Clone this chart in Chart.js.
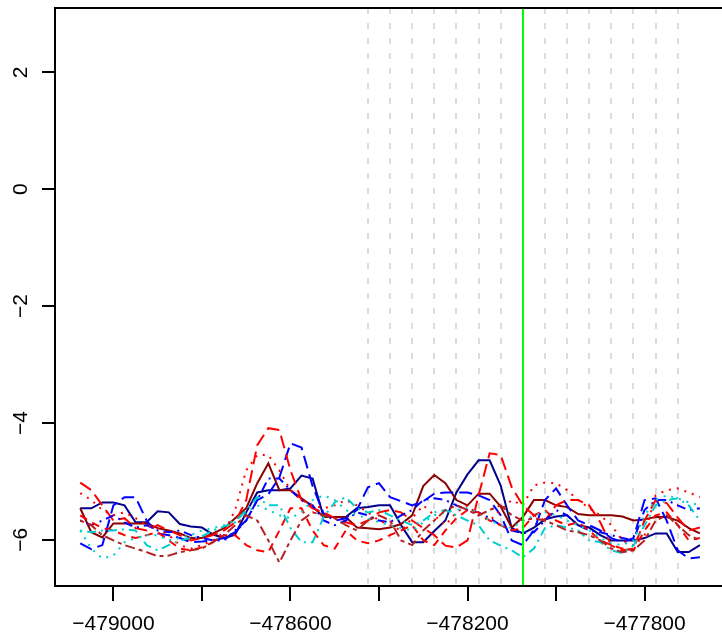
<!DOCTYPE html>
<html>
<head>
<meta charset="utf-8">
<script src="https://cdn.jsdelivr.net/npm/chart.js@4.4.1/dist/chart.umd.min.js"></script>
<style>
  html, body { margin: 0; padding: 0; background: #fff; overflow: hidden; }
  #wrap { width: 722px; height: 635px; }
</style>
</head>
<body>
<div id="wrap"><canvas id="plot" width="722" height="635"></canvas></div>
<script>
// positions along the x axis (every 25 units)
const positions = [-479075, -479050, -479025, -479000, -478975, -478950, -478925, -478900, -478875, -478850,
  -478825, -478800, -478775, -478750, -478725, -478700, -478675, -478650, -478625, -478600,
  -478575, -478550, -478525, -478500, -478475, -478450, -478425, -478400, -478375, -478350,
  -478325, -478300, -478275, -478250, -478225, -478200, -478175, -478150, -478125, -478100,
  -478075, -478050, -478025, -478000, -477975, -477950, -477925, -477900, -477875, -477850,
  -477825, -477800, -477775, -477750, -477725, -477700, -477675];

// series values
const navySolid = [-5.46, -5.46, -5.36, -5.36, -5.41, -5.70, -5.70, -5.51, -5.53, -5.73,
  -5.77, -5.79, -5.91, -5.97, -5.91, -5.53, -5.19, -5.15, -5.15, -5.12,
  -4.90, -4.95, -5.61, -5.61, -5.61, -5.46, -5.44, -5.41, -5.41, -5.75,
  -6.04, -6.04, -5.85, -5.67, -5.19, -4.88, -4.64, -4.64, -5.07, -5.80,
  -5.89, -5.79, -5.65, -5.60, -5.58, -5.75, -5.79, -5.92, -6.01, -6.01,
  -6.01, -5.97, -5.89, -5.89, -6.21, -6.21, -6.09];
const darkredSolid = [-5.46, -5.87, -5.96, -5.72, -5.72, -5.72, -5.72, -5.80, -5.84, -5.89,
  -5.97, -5.97, -5.89, -5.80, -5.63, -5.46, -5.03, -4.69, -5.15, -5.15,
  -5.29, -5.43, -5.61, -5.61, -5.61, -5.79, -5.80, -5.82, -5.79, -5.73,
  -5.58, -5.08, -4.89, -5.03, -5.32, -5.41, -5.21, -5.21, -5.43, -5.79,
  -5.61, -5.32, -5.32, -5.41, -5.44, -5.56, -5.58, -5.58, -5.58, -5.60,
  -5.67, -5.65, -5.61, -5.61, -5.67, -5.80, -5.89];
const blueLongdash = [-6.06, -6.16, -6.09, -5.41, -5.27, -5.27, -5.67, -5.89, -5.92, -5.97,
  -6.04, -6.03, -6.01, -5.97, -5.87, -5.67, -5.32, -5.22, -4.93, -4.35,
  -4.42, -5.08, -5.55, -5.67, -5.63, -5.49, -5.10, -5.03, -5.27, -5.34,
  -5.41, -5.34, -5.21, -5.19, -5.19, -5.19, -5.24, -5.32, -5.58, -6.01,
  -6.09, -5.84, -5.32, -5.12, -5.41, -5.67, -5.75, -5.84, -5.97, -6.04,
  -5.97, -5.32, -5.29, -5.67, -6.18, -6.32, -6.30];
const redLongdash = [-5.02, -5.15, -5.41, -5.67, -5.63, -5.80, -5.84, -5.75, -5.84, -5.92,
  -6.01, -5.97, -5.92, -5.84, -5.70, -5.32, -4.38, -4.09, -4.12, -4.81,
  -5.32, -5.46, -5.53, -5.63, -5.70, -5.75, -5.67, -5.53, -5.49, -5.53,
  -5.67, -5.80, -5.92, -6.10, -6.13, -6.01, -5.24, -4.52, -4.55, -5.10,
  -5.41, -5.58, -5.67, -5.41, -5.32, -5.32, -5.41, -5.70, -6.10, -6.18,
  -6.15, -5.67, -5.32, -5.37, -5.62, -5.84, -5.79];
const redDotted = [-5.20, -5.32, -5.49, -5.58, -5.53, -5.63, -5.75, -5.80, -5.92, -6.09,
  -6.15, -6.09, -6.01, -5.87, -5.49, -4.81, -4.55, -4.55, -4.81, -5.15,
  -5.32, -5.41, -5.46, -5.41, -5.32, -5.41, -5.53, -5.67, -5.75, -5.84,
  -5.63, -5.41, -5.58, -5.75, -5.53, -5.41, -5.58, -5.67, -5.49, -5.32,
  -5.41, -5.07, -5.02, -5.03, -5.15, -5.32, -5.46, -5.58, -5.75, -6.01,
  -6.09, -5.92, -5.24, -5.15, -5.12, -5.19, -5.27];
const redDashed = [-5.58, -5.70, -5.80, -5.84, -5.92, -5.97, -5.92, -5.87, -6.01, -6.15,
  -6.18, -6.13, -6.04, -5.92, -5.92, -6.09, -6.18, -6.21, -5.84, -5.46,
  -5.46, -5.84, -6.09, -6.15, -5.84, -6.01, -6.06, -6.01, -5.92, -5.84,
  -5.75, -6.01, -6.09, -5.84, -5.63, -5.49, -5.53, -5.67, -5.75, -5.84,
  -5.80, -5.58, -5.49, -5.67, -5.75, -5.70, -5.84, -6.01, -6.09, -6.15,
  -6.18, -5.84, -5.58, -5.53, -5.75, -6.01, -5.97];
const blueDotdash = [-5.67, -5.75, -5.67, -5.58, -5.70, -5.79, -5.75, -5.84, -5.87, -5.84,
  -5.92, -5.97, -6.01, -6.01, -5.84, -5.67, -5.32, -4.95, -4.95, -5.15,
  -5.32, -5.41, -5.67, -5.75, -5.67, -5.53, -5.58, -5.67, -5.70, -5.58,
  -5.49, -5.32, -5.29, -5.32, -5.41, -5.49, -5.53, -5.63, -5.75, -5.84,
  -5.89, -5.87, -5.67, -5.49, -5.58, -5.75, -5.84, -5.87, -5.92, -5.97,
  -6.01, -5.49, -5.32, -5.32, -5.41, -5.49, -5.46];
const cyanDotted = [-5.84, -6.15, -6.32, -6.27, -6.04, -5.97, -5.92, -5.92, -6.01, -5.97,
  -5.92, -5.84, -5.80, -5.75, -5.67, -5.53, -5.41, -5.49, -5.58, -5.63,
  -5.53, -5.32, -5.24, -5.32, -5.49, -5.58, -5.63, -5.70, -5.75, -5.80,
  -5.84, -5.70, -5.58, -5.53, -5.49, -5.46, -5.53, -5.67, -5.75, -5.80,
  -5.67, -5.58, -5.53, -5.58, -5.67, -5.75, -5.84, -5.97, -6.06, -6.09,
  -6.01, -5.58, -5.32, -5.24, -5.29, -5.36, -5.41];
const cyanDotdash = [-5.84, -5.87, -5.84, -5.84, -5.82, -5.84, -6.09, -6.18, -6.09, -6.01,
  -5.97, -5.94, -5.84, -5.77, -5.70, -5.49, -5.27, -5.41, -5.41, -5.80,
  -6.04, -6.04, -5.61, -5.36, -5.27, -5.46, -5.53, -5.49, -5.58, -5.67,
  -5.75, -5.67, -5.53, -5.49, -5.58, -5.67, -5.75, -6.01, -6.10, -6.18,
  -6.30, -6.15, -5.80, -5.75, -5.79, -5.84, -6.01, -6.04, -6.18, -6.23,
  -6.10, -5.75, -5.41, -5.32, -5.29, -5.41, -5.67];
const firebrickTwodash = [-5.67, -5.75, -5.92, -6.01, -6.09, -6.15, -6.21, -6.28, -6.27, -6.21,
  -6.18, -6.15, -6.04, -5.92, -5.75, -5.58, -5.67, -6.01, -6.39, -6.01,
  -5.67, -5.53, -5.58, -5.63, -5.75, -5.84, -5.67, -5.58, -5.67, -6.01,
  -6.09, -5.84, -5.67, -5.49, -5.41, -5.49, -5.58, -5.49, -5.41, -5.58,
  -5.67, -5.63, -5.67, -5.75, -5.84, -5.87, -5.92, -6.01, -6.15, -6.21,
  -6.18, -6.01, -5.67, -5.58, -5.75, -5.92, -6.01];

// axis ticks and marker positions
const xTicks = [-479000, -478800, -478600, -478400, -478200, -478000, -477800];
const xLabelled = [-479000, -478600, -478200, -477800];
const yTicks = [-6, -4, -2, 0, 2];
const guideX = [-478425, -478375, -478325, -478275, -478225, -478175, -478125,
  -478025, -477975, -477925, -477875, -477825, -477775, -477725];
const markerX = -478075;

const minus = v => (v < 0 ? '\u2212' + Math.abs(v) : String(v));

// dashed grey guides and green marker, plus the open box
const guidesPlugin = {
  id: 'guides',
  beforeDatasetsDraw(chart) {
    const { ctx, chartArea, scales } = chart;
    ctx.save();
    ctx.strokeStyle = '#dcdcdc';
    ctx.lineWidth = 2;
    ctx.setLineDash([6, 9]);
    guideX.forEach(v => {
      const x = Math.round(scales.x.getPixelForValue(v));
      ctx.beginPath();
      ctx.moveTo(x, chartArea.top);
      ctx.lineTo(x, chartArea.bottom);
      ctx.stroke();
    });
    ctx.restore();
  },
  afterDatasetsDraw(chart) {
    const { ctx, chartArea, scales } = chart;
    ctx.save();
    const gx = Math.round(scales.x.getPixelForValue(markerX));
    ctx.strokeStyle = '#00ff00';
    ctx.lineWidth = 2;
    ctx.beginPath();
    ctx.moveTo(gx, chartArea.top);
    ctx.lineTo(gx, chartArea.bottom);
    ctx.stroke();
    // box (right side falls outside the picture)
    ctx.strokeStyle = '#000';
    ctx.lineWidth = 2;
    ctx.beginPath();
    ctx.moveTo(chartArea.right + 2, chartArea.top);
    ctx.lineTo(chartArea.left, chartArea.top);
    ctx.lineTo(chartArea.left, chartArea.bottom);
    ctx.lineTo(chartArea.right + 2, chartArea.bottom);
    ctx.stroke();
    ctx.restore();
  }
};

function series(data, color, dash) {
  return {
    data: data,
    borderColor: color,
    borderWidth: 2,
    borderDash: dash,
    pointRadius: 0,
    tension: 0,
    fill: false
  };
}

new Chart(document.getElementById('plot'), {
  type: 'line',
  data: {
    labels: positions,
    datasets: [
      series(firebrickTwodash, '#b22222', [4, 4, 10, 4]),
      series(cyanDotdash, '#00cdcd', [2, 5, 9, 5]),
      series(cyanDotted, '#00cdcd', [2, 6]),
      series(redDashed, '#ff0000', [8, 6]),
      series(redDotted, '#ff0000', [2, 6]),
      series(blueDotdash, '#0000ff', [2, 5, 9, 5]),
      series(redLongdash, '#ff0000', [13, 6]),
      series(blueLongdash, '#0000ff', [13, 6]),
      series(darkredSolid, '#8b0000', []),
      series(navySolid, '#00008b', [])
    ]
  },
  options: {
    responsive: false,
    animation: false,
    devicePixelRatio: 1,
    layout: { padding: { top: 8, right: 0, left: 0, bottom: 0 } },
    plugins: { legend: { display: false }, tooltip: { enabled: false } },
    scales: {
      x: {
        type: 'linear',
        min: -479132,
        max: -477625,
        afterFit: s => { s.height = 49; s.paddingLeft = 0; s.paddingRight = 0; },
        afterBuildTicks: s => { s.ticks = xTicks.map(v => ({ value: v })); },
        grid: { drawOnChartArea: false, tickLength: 15, tickColor: '#000', lineWidth: 2 },
        border: { display: false },
        ticks: {
          autoSkip: false,
          maxRotation: 0,
          padding: 11,
          color: '#000',
          font: { family: 'Liberation Sans', size: 21 },
          callback: v => (xLabelled.includes(v) ? minus(v) : '')
        }
      },
      y: {
        type: 'linear',
        min: -6.79,
        max: 3.1,
        afterFit: s => { s.width = 55; s.paddingTop = 0; s.paddingBottom = 0; },
        afterBuildTicks: s => { s.ticks = yTicks.map(v => ({ value: v })); },
        grid: { drawOnChartArea: false, tickLength: 13, tickColor: '#000', lineWidth: 2 },
        border: { display: false },
        ticks: {
          minRotation: 90,
          maxRotation: 90,
          crossAlign: 'center',
          padding: 9,
          color: '#000',
          font: { family: 'Liberation Sans', size: 21 },
          callback: v => minus(v)
        }
      }
    }
  },
  plugins: [guidesPlugin]
});
</script>
</body>
</html>
